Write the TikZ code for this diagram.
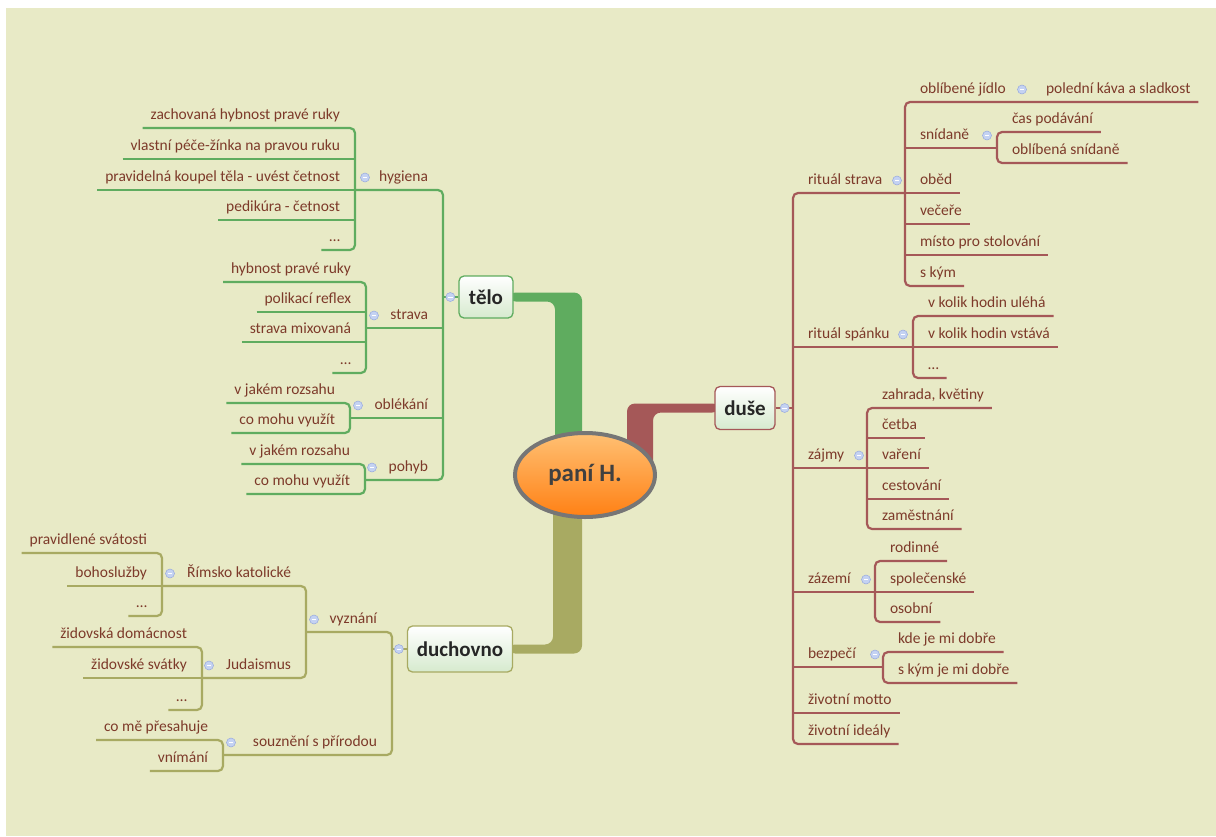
\documentclass[tikz,border=0pt]{standalone}
\usepackage{fontspec}
\setmainfont{Carlito}
\usetikzlibrary{calc,shapes.geometric}
\pgfdeclarelayer{bgl}
\pgfsetlayers{bgl,main}
\definecolor{bgc}{RGB}{232,234,198}
\definecolor{gL}{RGB}{95,172,95}
\definecolor{rL}{RGB}{165,88,88}
\definecolor{oL}{RGB}{168,170,98}
\definecolor{txt}{RGB}{125,58,42}
\definecolor{boxb}{RGB}{214,234,206}
\definecolor{colf}{RGB}{196,210,242}
\definecolor{cold}{RGB}{150,168,222}
\definecolor{orT}{RGB}{255,192,115}
\definecolor{orB}{RGB}{255,128,20}
\definecolor{elb}{RGB}{118,118,118}
\begin{document}
\begin{tikzpicture}[x=1pt,y=-1pt,
  lbl/.style={font=\fontsize{15.5}{18}\selectfont, text=txt, inner xsep=8pt, inner ysep=5pt, text height=11pt, text depth=4pt, outer sep=0pt},
  lt/.style={lbl, anchor=south east},
  rt/.style={lbl, anchor=south west},
  gln/.style={draw=gL, line width=2.2pt, rounded corners=5pt},
  rln/.style={draw=rL, line width=2.2pt, rounded corners=5pt},
  oln/.style={draw=oL, line width=2.2pt, rounded corners=5pt},
  topic/.style={draw, line width=1.3pt, rounded corners=5pt, top color=white, bottom color=boxb, font=\fontsize{21}{24}\selectfont\bfseries, text=black!85, inner xsep=8pt, minimum height=42pt},
  col/.style={circle, fill=colf, draw=cold, line width=0.5pt, minimum size=9pt, inner sep=0pt,
    path picture={\draw[white, line width=1pt] ([xshift=-2.2pt]path picture bounding box.center) -- ([xshift=2.2pt]path picture bounding box.center);}},
]
\useasboundingbox (0,0) rectangle (1216,836);

% ---------- main topics ----------
\node[topic, draw=gL, minimum width=54pt] (telo) at (486,297) {tělo};
\node[topic, draw=rL, minimum width=60pt, minimum height=43pt] (duse) at (745,408) {duše};
\node[topic, draw=oL, minimum width=105pt, minimum height=46pt] (duch) at (460,649) {duchovno};
\node[ellipse, draw=elb, line width=4pt, top color=orT, bottom color=orB, minimum width=140pt, minimum height=84pt, font=\fontsize{25}{28}\selectfont\bfseries, text=black!75] (center) at (585,475) {paní H.};

\begin{pgfonlayer}{bgl}
\fill[white] (0,0) rectangle (1216,836);
\fill[bgc] (6,8) rectangle (1216,836);
\fill[gL, rounded corners=8pt] ($(telo.east)+(-6,-4.5)$) -| ($(center.center)+(-3,0)$) -- ($(center.center)+(-30,0)$) |- ($(telo.east)+(-6,4.5)$) -- cycle;
\fill[rL, rounded corners=8pt] ($(duse.west)+(6,-4.5)$) -| ($(center.center)+(42,0)$) -- ($(center.center)+(68,0)$) |- ($(duse.west)+(6,4.5)$) -- cycle;
\fill[oL, rounded corners=8pt] ($(duch.east)+(-6,-4.5)$) -| ($(center.center)+(-32,0)$) -- ($(center.center)+(-3,0)$) |- ($(duch.east)+(-6,4.5)$) -- cycle;
\end{pgfonlayer}

% ---------- spine coordinates ----------
\coordinate (Tsp) at (443,0);
\coordinate (hygsp) at (355,0);
\coordinate (strsp) at (366,0);
\coordinate (oblsp) at (350,0);
\coordinate (pohsp) at (365,0);
\coordinate (Dsp) at (793,0);
\coordinate (rssp) at (905,0);
\coordinate (ojsp) at (1031,0);
\coordinate (snsp) at (997,0);
\coordinate (spsp) at (913,0);
\coordinate (zajsp) at (867,0);
\coordinate (zazsp) at (875,0);
\coordinate (bezsp) at (883,0);
\coordinate (Csp) at (392,0);
\coordinate (vyzsp) at (306,0);
\coordinate (rksp) at (162,0);
\coordinate (judsp) at (202,0);
\coordinate (sousp) at (223,0);

% ---------- tělo ----------
\node[lt] (hyg) at (436,190) {hygiena};
\node[lt] (h1) at (348,128) {zachovaná hybnost pravé ruky};
\node[lt] (h2) at (348,159) {vlastní péče-žínka na pravou ruku};
\node[lt] (h3) at (348,190) {pravidelná koupel těla - uvést četnost};
\node[lt] (h4) at (348,220) {pedikúra - četnost};
\node[lt] (h5) at (348,250) {…};
\node[lt] (str) at (436,328) {strava};
\node[lt] (s1) at (359,282) {hybnost pravé ruky};
\node[lt] (s2) at (359,312) {polikací reflex};
\node[lt] (s3) at (359,342) {strava mixovaná};
\node[lt] (s4) at (359,373) {…};
\node[lt] (obl) at (436,418) {oblékání};
\node[lt] (o1) at (343,403) {v jakém rozsahu};
\node[lt] (o2) at (343,433) {co mohu využít};
\node[lt] (poh) at (436,480) {pohyb};
\node[lt] (p1) at (358,464) {v jakém rozsahu};
\node[lt] (p2) at (358,494) {co mohu využít};

\draw[gln] (h1.south west) -- (hygsp |- h1.south) -- (hygsp |- h5.south) -- (h5.south west);
\draw[gln] (h2.south west) -- (hygsp |- h2.south);
\draw[gln] (h3.south west) -- (hygsp |- h3.south);
\draw[gln] (h4.south west) -- (hygsp |- h4.south);
\draw[gln] (s1.south west) -- (strsp |- s1.south) -- (strsp |- s4.south) -- (s4.south west);
\draw[gln] (s2.south west) -- (strsp |- s2.south);
\draw[gln] (s3.south west) -- (strsp |- s3.south);
\draw[gln] (o1.south west) -- (oblsp |- o1.south) -- (oblsp |- o2.south) -- (o2.south west);
\draw[gln] (p1.south west) -- (pohsp |- p1.south) -- (pohsp |- p2.south) -- (p2.south west);
\draw[gln] (hygsp |- hyg.south) -- (Tsp |- hyg.south) -- (Tsp |- poh.south) -- (pohsp |- poh.south);
\draw[gln] (strsp |- str.south) -- (Tsp |- str.south);
\draw[gln] (oblsp |- obl.south) -- (Tsp |- obl.south);
\draw[gln] (Tsp |- telo.west) -- (telo.west);

\node[col] (chyg) at ($(hygsp |- hyg.west)+(10,0)$) {};
\node[col] (cstr) at ($(strsp |- str.west)+(8,0)$) {};
\node[col] (cobl) at ($(oblsp |- obl.west)+(8,0)$) {};
\node[col] (cpoh) at ($(pohsp |- poh.west)+(7,0)$) {};
\node[col] (ctelo) at ($(telo.west)+(-8,0)$) {};

% ---------- duše ----------
\node[rt] (rs) at (800,193) {rituál strava};
\node[rt] (r1) at (912,102) {oblíbené jídlo};
\node[rt] (r1a) at (1038,102) {polední káva a sladkost};
\node[rt] (r2) at (912,148) {snídaně};
\node[rt] (r2a) at (1004,132) {čas podávání};
\node[rt] (r2b) at (1004,163) {oblíbená snídaně};
\node[rt] (r3) at (912,193) {oběd};
\node[rt] (r4) at (912,224) {večeře};
\node[rt] (r5) at (912,255) {místo pro stolování};
\node[rt] (r6) at (912,286) {s kým};
\node[rt] (rsp) at (800,347) {rituál spánku};
\node[rt] (q1) at (920,316) {v kolik hodin uléhá};
\node[rt] (q2) at (920,347) {v kolik hodin vstává};
\node[rt] (q3) at (920,378) {…};
\node[rt] (zaj) at (800,468) {zájmy};
\node[rt] (z1) at (874,408) {zahrada, květiny};
\node[rt] (z2) at (874,438) {četba};
\node[rt] (z3) at (874,468) {vaření};
\node[rt] (z4) at (874,499) {cestování};
\node[rt] (z5) at (874,529) {zaměstnání};
\node[rt] (zaz) at (800,592) {zázemí};
\node[rt] (y1) at (882,561) {rodinné};
\node[rt] (y2) at (882,592) {společenské};
\node[rt] (y3) at (882,622) {osobní};
\node[rt] (bez) at (800,667) {bezpečí};
\node[rt] (b1) at (890,652) {kde je mi dobře};
\node[rt] (b2) at (890,683) {s kým je mi dobře};
\node[rt] (mot) at (800,713) {životní motto};
\node[rt] (ide) at (800,744) {životní ideály};

\draw[rln] (r1a.south east) -- (rssp |- r1.south) -- (rssp |- r6.south) -- (r6.south east);
\draw[rln] (rssp |- r2.south) -- (snsp |- r2.south);
\draw[rln] (r2a.south east) -- (snsp |- r2a.south) -- (snsp |- r2b.south) -- (r2b.south east);
\draw[rln] (rssp |- r3.south) -- (r3.south east);
\draw[rln] (rssp |- r4.south) -- (r4.south east);
\draw[rln] (rssp |- r5.south) -- (r5.south east);
\draw[rln] (rssp |- rs.south) -- (Dsp |- rs.south) -- (Dsp |- ide.south) -- (ide.south east);
\draw[rln] (Dsp |- rsp.south) -- (spsp |- rsp.south);
\draw[rln] (q1.south east) -- (spsp |- q1.south) -- (spsp |- q3.south) -- (q3.south east);
\draw[rln] (spsp |- q2.south) -- (q2.south east);
\draw[rln] (Dsp |- zaj.south) -- (zajsp |- zaj.south);
\draw[rln] (z1.south east) -- (zajsp |- z1.south) -- (zajsp |- z5.south) -- (z5.south east);
\draw[rln] (zajsp |- z2.south) -- (z2.south east);
\draw[rln] (zajsp |- z3.south) -- (z3.south east);
\draw[rln] (zajsp |- z4.south) -- (z4.south east);
\draw[rln] (Dsp |- zaz.south) -- (zazsp |- zaz.south);
\draw[rln] (y1.south east) -- (zazsp |- y1.south) -- (zazsp |- y3.south) -- (y3.south east);
\draw[rln] (zazsp |- y2.south) -- (y2.south east);
\draw[rln] (Dsp |- bez.south) -- (bezsp |- bez.south);
\draw[rln] (b1.south east) -- (bezsp |- b1.south) -- (bezsp |- b2.south) -- (b2.south east);
\draw[rln] (Dsp |- mot.south) -- (mot.south east);
\draw[rln] (duse.east) -- (Dsp |- duse.east);

\node[col] (crs) at ($(rssp |- rs.east)+(-8,0)$) {};
\node[col] (cr1) at ($(ojsp |- r1.east)+(-9,0)$) {};
\node[col] (cr2) at ($(snsp |- r2.east)+(-10,0)$) {};
\node[col] (crsp) at ($(spsp |- rsp.east)+(-10,0)$) {};
\node[col] (czaj) at ($(zajsp |- zaj.east)+(-8,0)$) {};
\node[col] (czaz) at ($(zazsp |- zaz.east)+(-9,0)$) {};
\node[col] (cbez) at ($(bezsp |- bez.east)+(-8,0)$) {};
\node[col] (cduse) at ($(duse.east)+(9,0)$) {};

% ---------- duchovno ----------
\node[lt] (vyz) at (385,632) {vyznání};
\node[lt] (rk) at (299,586) {Římsko katolické};
\node[lt] (k1) at (155,553) {pravidlené svátosti};
\node[lt] (k2) at (155,586) {bohoslužby};
\node[lt] (k3) at (155,616) {…};
\node[lt] (jud) at (299,678) {Judaismus};
\node[lt] (j1) at (195,647) {židovská domácnost};
\node[lt] (j2) at (195,678) {židovské svátky};
\node[lt] (j3) at (195,710) {…};
\node[lt] (sou) at (385,755) {souznění s přírodou};
\node[lt] (u1) at (216,740) {co mě přesahuje};
\node[lt] (u2) at (216,771) {vnímání};

\draw[oln] (vyzsp |- vyz.south) -- (Csp |- vyz.south) -- (Csp |- sou.south) -- (sousp |- sou.south);
\draw[oln] (Csp |- duch.west) -- (duch.west);
\draw[oln] (rksp |- rk.south) -- (vyzsp |- rk.south) -- (vyzsp |- jud.south) -- (judsp |- jud.south);
\draw[oln] (k1.south west) -- (rksp |- k1.south) -- (rksp |- k3.south) -- (k3.south west);
\draw[oln] (k2.south west) -- (rksp |- k2.south);
\draw[oln] (j1.south west) -- (judsp |- j1.south) -- (judsp |- j3.south) -- (j3.south west);
\draw[oln] (j2.south west) -- (judsp |- j2.south);
\draw[oln] (u1.south west) -- (sousp |- u1.south) -- (sousp |- u2.south) -- (u2.south west);

\node[col] (cvyz) at ($(vyzsp |- vyz.west)+(8,0)$) {};
\node[col] (crk) at ($(rksp |- rk.west)+(8,0)$) {};
\node[col] (cjud) at ($(judsp |- jud.west)+(7,0)$) {};
\node[col] (csou) at ($(sousp |- sou.west)+(8,0)$) {};
\node[col] (cduch) at ($(duch.west)+(-8,0)$) {};
\end{tikzpicture}
\end{document}
